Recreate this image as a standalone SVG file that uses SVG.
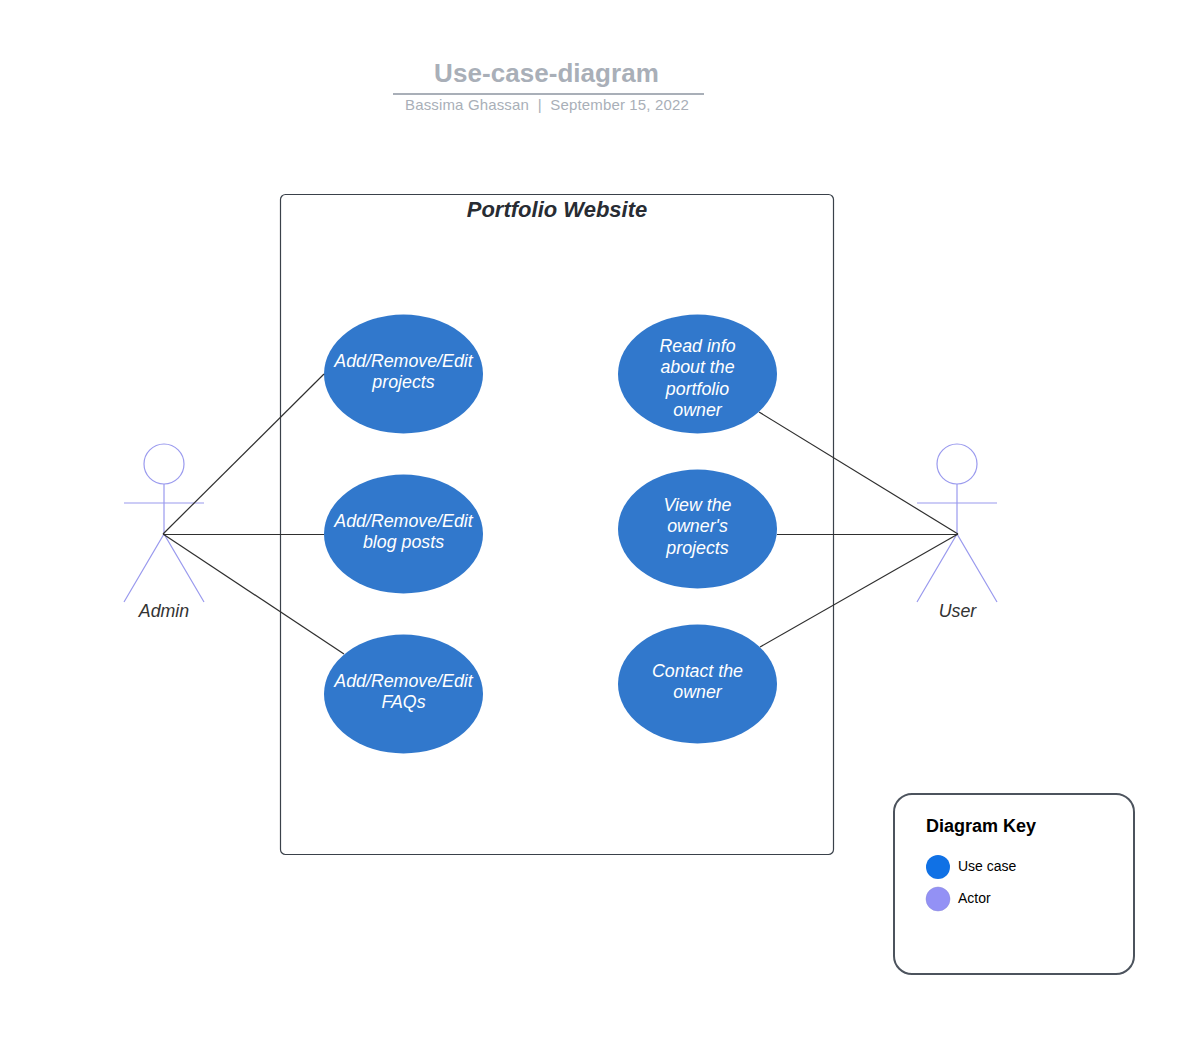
<svg xmlns="http://www.w3.org/2000/svg" width="1192" height="1043" viewBox="0 0 1192 1043">
<style>
text{font-family:"Liberation Sans",Arial,sans-serif}
.uc{fill:#3178cc}
.ut{fill:#fff;font-size:17.800px;font-style:italic;text-anchor:middle}
.act{fill:none;stroke:#9a9aee;stroke-width:1.200}
.al{fill:#333;font-size:17.800px;font-style:italic;text-anchor:middle}
.con{fill:none;stroke:#2f2f2f;stroke-width:1.200}
.k{fill:#000;font-size:14px}
</style>
<rect width="1192" height="1043" fill="#fff"/>
<g id="title">
<text x="546.500" y="82" font-size="26" font-weight="bold" fill="#a9afb8" text-anchor="middle" letter-spacing="0.050">Use-case-diagram</text>
<line x1="393" y1="94" x2="704" y2="94" stroke="#a9afb8" stroke-width="2"/>
<text x="547" y="110" font-size="15" fill="#a9afb8" text-anchor="middle" letter-spacing="0.150" xml:space="preserve">Bassima Ghassan  |  September 15, 2022</text>
</g>
<g id="system">
<rect x="280.500" y="194.500" width="553" height="660" rx="5" fill="#fff" stroke="#3a414a" stroke-width="1.200"/>
<text x="557" y="217" font-size="22" font-weight="bold" font-style="italic" fill="#282c33" text-anchor="middle">Portfolio Website</text>
</g>
<g id="uc1"><ellipse class="uc" cx="403.500" cy="374" rx="79.500" ry="59.500"/><text class="ut" x="403.500" y="367">Add/Remove/Edit</text><text class="ut" x="403.500" y="388">projects</text></g>
<g id="uc2"><ellipse class="uc" cx="403.500" cy="534" rx="79.500" ry="59.500"/><text class="ut" x="403.500" y="527">Add/Remove/Edit</text><text class="ut" x="403.500" y="548">blog posts</text></g>
<g id="uc3"><ellipse class="uc" cx="403.500" cy="694" rx="79.500" ry="59.500"/><text class="ut" x="403.500" y="687">Add/Remove/Edit</text><text class="ut" x="403.500" y="708">FAQs</text></g>
<g id="uc4"><ellipse class="uc" cx="697.500" cy="374" rx="79.500" ry="59.500"/><text class="ut" x="697.500" y="352">Read info</text><text class="ut" x="697.500" y="373">about the</text><text class="ut" x="697.500" y="395">portfolio</text><text class="ut" x="697.500" y="416">owner</text></g>
<g id="uc5"><ellipse class="uc" cx="697.500" cy="529" rx="79.500" ry="59.500"/><text class="ut" x="697.500" y="511">View the</text><text class="ut" x="697.500" y="532">owner's</text><text class="ut" x="697.500" y="554">projects</text></g>
<g id="uc6"><ellipse class="uc" cx="697.500" cy="684" rx="79.500" ry="59.500"/><text class="ut" x="697.500" y="677">Contact the</text><text class="ut" x="697.500" y="698">owner</text></g>
<g id="admin">
<circle class="act" cx="164" cy="464" r="20"/>
<path class="act" d="M164 484V534M124 503H204M124 602L164 534L204 602"/>
<text class="al" x="164" y="617">Admin</text>
</g>
<g id="user">
<circle class="act" cx="957" cy="464" r="20"/>
<path class="act" d="M957 484V534M917 503H997M917 602L957 534L997 602"/>
<text class="al" x="957.500" y="617">User</text>
</g>
<g id="connectors">
<path class="con" d="M163 534L324 374"/>
<path class="con" d="M163 534.500H324"/>
<path class="con" d="M163 534L344 654"/>
<path class="con" d="M759 412L958 534"/>
<path class="con" d="M777 534.500H958"/>
<path class="con" d="M760 647L958 534"/>
</g>
<g id="key">
<rect x="894" y="794" width="240" height="180" rx="18" fill="#fff" stroke="#4c535d" stroke-width="2"/>
<text x="926" y="832" font-size="18" font-weight="bold" fill="#000">Diagram Key</text>
<circle cx="938" cy="867" r="12" fill="#1071e5"/>
<text class="k" x="958" y="871">Use case</text>
<circle cx="938" cy="899" r="12" fill="#9391f5" stroke="#8a88d8" stroke-width="0.500"/>
<text class="k" x="958" y="903">Actor</text>
</g>
</svg>
